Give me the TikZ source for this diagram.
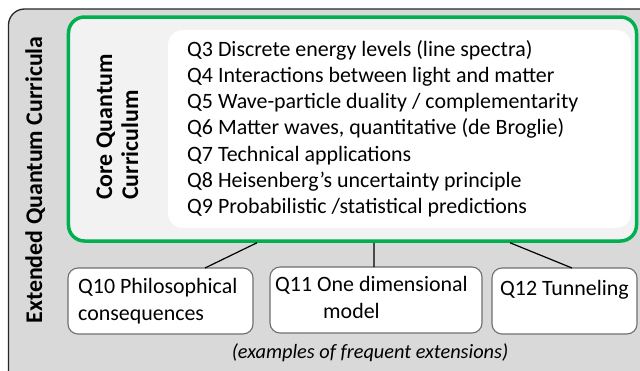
\documentclass[tikz,border=0pt]{standalone}
\usepackage{fontspec}
\setmainfont{Carlito}
\definecolor{outerfill}{HTML}{D9D9D9}
\definecolor{outerline}{HTML}{262626}
\definecolor{coregreen}{HTML}{00B050}
\definecolor{corefill}{HTML}{F2F2F2}
\definecolor{boxline}{HTML}{6F6F6F}
\tikzset{
  outerbox/.style={draw=outerline, fill=outerfill, line width=1.3bp, rounded corners=16bp},
  greenbox/.style={draw=coregreen, fill=corefill, line width=3.5bp, rounded corners=16bp, inner sep=0pt, outer sep=0pt},
  listbox/.style={fill=white, rounded corners=15bp, inner sep=0pt},
  extbox/.style={draw=boxline, fill=white, line width=1.1bp, rounded corners=10bp, inner sep=0pt, outer sep=0pt, minimum height=66bp},
  txt/.style={anchor=base west, inner sep=0pt, font=\fontsize{22}{26}\selectfont},
  rottxt/.style={anchor=base west, inner sep=0pt, rotate=90, font=\fontsize{24}{28}\selectfont\bfseries},
  link/.style={draw=black, line width=1.2bp}
}
\begin{document}
\begin{tikzpicture}[x=1bp,y=-1bp]
\useasboundingbox (0,0) rectangle (640,370);
\clip (0,0) rectangle (640,370);
\draw[outerbox] (8.5,9) rectangle (660,392);
\node[greenbox, minimum width=568bp, minimum height=224bp] (core) at (352.5,129) {};
\node[listbox, minimum width=463bp, minimum height=198bp] (list) at (399.5,129) {};
\node[rottxt, anchor=base] (ext) at (42,180) {Extended Quantum Curricula};
\node[rottxt] (cq1) at (112,200) {Core Quantum};
\node[rottxt] (cq2) at (138,200) {Curriculum};
\node[txt] (l3) at (187,56) {Q3 Discrete energy levels (line spectra)};
\node[txt] (l4) at (187,82.3) {Q4 Interactions between light and matter};
\node[txt] (l5) at (187,108.6) {Q5 Wave-particle duality / complementarity};
\node[txt] (l6) at (187,134.9) {Q6 Matter waves, quantitative (de Broglie)};
\node[txt] (l7) at (187,161.2) {Q7 Technical applications};
\node[txt] (l8) at (187,187.5) {Q8 Heisenberg's uncertainty principle};
\node[txt] (l9) at (187,213.8) {Q9 Probabilistic /statistical predictions};
\node[extbox, minimum width=185bp] (q10) at (160.5,301) {};
\node[extbox, minimum width=212bp] (q11) at (376,300) {};
\node[extbox, minimum width=145bp] (q12) at (564.5,301) {};
\node[txt] (q10a) at (78,293) {Q10 Philosophical};
\node[txt] (q10b) at (78,320) {consequences};
\node[txt] (q11a) at (275,291) {Q11 One dimensional};
\node[txt] (q11b) at (323,318) {model};
\node[txt] (q12a) at (500,295) {Q12 Tunneling};
\node[txt, anchor=base, font=\fontsize{20.4}{24}\selectfont\itshape] (cap) at (370,358) {(examples of frequent extensions)};
\draw[link] ([xshift=-95.5bp,yshift=-1.75bp]core.south) -- ([xshift=44.5bp]q10.north);
\draw[link] ([xshift=21.5bp,yshift=-1.75bp]core.south) -- ([xshift=-2bp]q11.north);
\draw[link] ([xshift=157.5bp,yshift=-1.75bp]core.south) -- ([xshift=7.5bp]q12.north);
\end{tikzpicture}
\end{document}
